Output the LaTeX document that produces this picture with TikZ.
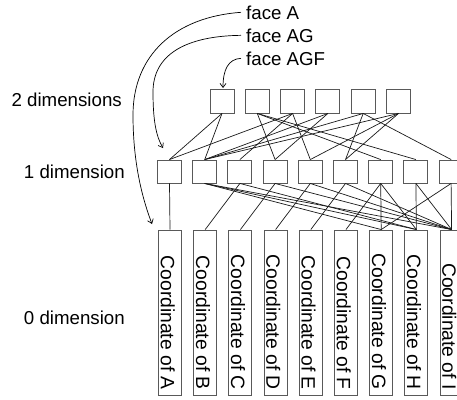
\documentclass[tikz,border=0pt]{standalone}
\usepackage{fontspec}
\setmainfont{Liberation Sans}
\usetikzlibrary{arrows.meta}
\begin{document}
\begin{tikzpicture}[x=1pt,y=-1pt,
  facebox/.style={draw=black!65, fill=white, line width=0.9pt, minimum width=24pt, minimum height=24pt, inner sep=0pt},
  edgebox/.style={draw=black!65, fill=white, line width=0.9pt, minimum width=24pt, minimum height=23pt, inner sep=0pt},
  vertbox/.style={draw=black!65, fill=white, line width=0.9pt, minimum width=23pt, minimum height=165pt, inner sep=0pt},
  link/.style={draw=black!90, line width=0.7pt},
  lbl/.style={font=\fontsize{18.7}{22}\selectfont, inner sep=0pt},
  coordlbl/.style={font=\fontsize{19.3}{22}\selectfont, inner sep=0pt, rotate=-90, anchor=east},
  pointer/.style={draw=black, line width=0.7pt, -{Straight Barb[length=4pt,width=6pt]}}
]
\useasboundingbox (0,0) rectangle (457,399);
% level labels
\node[lbl, anchor=east] (d2) at (122,100) {2 dimensions};
\node[lbl, anchor=east] (d1) at (125,171.5) {1 dimension};
\node[lbl, anchor=east] (d0) at (125,318) {0 dimension};
% faces (2D)
\foreach \j in {0,...,5}
  \node[facebox] (t\j) at ({222+35.3*\j},101) {};
% edges (1D)
\foreach \i in {0,...,8}
  \node[edgebox] (m\i) at ({169.5+35.2*\i},171.5) {};
% vertices (0D)
\foreach \i/\L in {0/A,1/B,2/C,3/D,4/E,5/F,6/G,7/H,8/I} {
  \node[vertbox] (b\i) at ({170+35.2*\i},312.5) {};
  \node[coordlbl] (c\i) at ({167.7+35.2*\i},390) {Coordinate of \L};
}
% face -> edge links
\foreach \a/\b in {0/0,0/1, 1/3,1/6,1/7, 2/0,2/2,2/4, 3/1,3/3, 4/1,4/5,4/8, 5/1,5/4,5/5}
  \draw[link] (t\a.south) -- (m\b.north);
% edge -> vertex links
\foreach \a/\b in {0/0, 1/6,1/7,1/8, 2/1,2/7, 3/2,3/8, 4/3,4/8, 5/4,5/8, 6/5,6/6,6/7, 7/7,7/8, 8/6,8/8}
  \draw[link] (m\a.south) -- (b\b.north);
% face labels and pointers
\node[lbl, anchor=base west] (fA) at (246,19) {face A};
\node[lbl, anchor=base west] (fAG) at (246,42) {face AG};
\node[lbl, anchor=base west] (fAGF) at (246,65) {face AGF};
\coordinate (pA) at (152,224);
\coordinate (pAG) at (163,148);
\coordinate (pAGF) at (223,88);
\draw[pointer] ([xshift=-5pt]fA.west) .. controls (175,17) and (133,55) .. (133,115) .. controls (133,165) and (143,200) .. (pA);
\draw[pointer] ([xshift=-5pt]fAG.west) .. controls (185,36) and (153,55) .. (153,92) .. controls (153,120) and (156,136) .. (pAG);
\draw[pointer] ([xshift=-5pt]fAGF.west) .. controls (228,59) and (223,70) .. (pAGF);
\end{tikzpicture}
\end{document}
